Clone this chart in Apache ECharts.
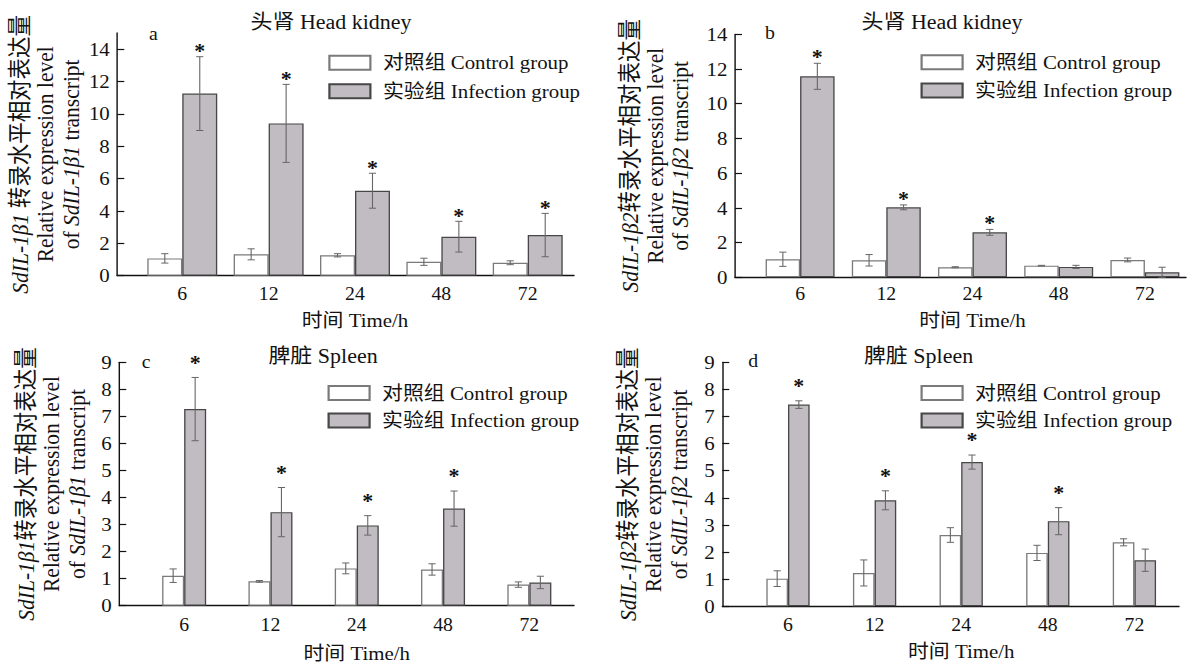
<!DOCTYPE html>
<html><head><meta charset="utf-8">
<script src="https://cdn.jsdelivr.net/npm/echarts@6/dist/echarts.min.js"></script>
<style>
html,body{margin:0;padding:0;background:#fff;overflow:hidden}
#wrap{width:1192px;height:666px;overflow:hidden;position:relative;background:#fff}
#chart{position:absolute;left:0;top:0;transform-origin:0 0}
</style></head>
<body><div id="wrap"><div id="chart"></div></div>
<script>
// ---------- data ----------
const categories = ['6', '12', '24', '48', '72'];
const controlName = '对照组 Control group';
const infectionName = '实验组 Infection group';

// a: head kidney, SdIL-1β1
const aControl = [1.07, 1.32, 1.26, 0.86, 0.80];
const aControlErr = [0.29, 0.34, 0.10, 0.22, 0.12];
const aInfection = [11.25, 9.41, 5.25, 2.41, 2.51];
const aInfectionErr = [2.28, 2.41, 1.08, 0.95, 1.34];
const aStars = [1, 1, 1, 1, 1];
const aTicks = [0, 2, 4, 6, 8, 10, 12, 14];

// b: head kidney, SdIL-1β2
const bControl = [1.04, 0.98, 0.58, 0.67, 1.00];
const bControlErr = [0.41, 0.33, 0.03, 0.02, 0.11];
const bInfection = [11.58, 4.03, 2.59, 0.60, 0.29];
const bInfectionErr = [0.75, 0.14, 0.17, 0.09, 0.29];
const bStars = [1, 1, 1, 0, 0];
const bTicks = [0, 2, 4, 6, 8, 10, 12, 14];

// c: spleen, SdIL-1β1
const cControl = [1.11, 0.90, 1.38, 1.34, 0.78];
const cControlErr = [0.25, 0.03, 0.20, 0.21, 0.10];
const cInfection = [7.27, 3.46, 2.97, 3.59, 0.86];
const cInfectionErr = [1.17, 0.91, 0.36, 0.65, 0.23];
const cStars = [1, 1, 1, 1, 0];
const cTicks = [0, 1, 2, 3, 4, 5, 6, 7, 8, 9];

// d: spleen, SdIL-1β2
const dControl = [1.02, 1.23, 2.63, 1.97, 2.36];
const dControlErr = [0.29, 0.48, 0.27, 0.28, 0.13];
const dInfection = [7.44, 3.91, 5.32, 3.14, 1.70];
const dInfectionErr = [0.14, 0.35, 0.26, 0.50, 0.41];
const dStars = [1, 1, 1, 1, 0];
const dTicks = [0, 1, 2, 3, 4, 5, 6, 7, 8, 9];

// ---------- layout (reference pixels) ----------
const CW = 1084, CH = 666;
const S = 1192 / CW;          // horizontal stretch of the reference figure
const X = v => v / S;
const FF = '"Liberation Serif", "Noto Sans CJK SC", serif';
const INK = '#121212';

const panels = [
  { letter: 'a', title: '头肾 Head kidney', gene: 'SdIL-1β1', sep: ' ',
    ctrl: aControl, ctrlErr: aControlErr, inf: aInfection, infErr: aInfectionErr, stars: aStars, ticks: aTicks, yMax: 15,
    axisL: 117.3, axisR: 574, bandL: 139.1, bandR: 570.9, top: 32.9, bottom: 275.7, gap: 0.19,
    legL: 328.3, legC1: 62.8, legC2: 91.3, titleX: 331, titleY: 22.5, letX: 149, letBase: 39.5,
    starOff: 8, yNameGap: 34, xNameGap: 35, catMargin: 9 },
  { letter: 'b', title: '头肾 Head kidney', gene: 'SdIL-1β2', sep: '',
    ctrl: bControl, ctrlErr: bControlErr, inf: bInfection, infErr: bInfectionErr, stars: bStars, ticks: bTicks, yMax: 14,
    axisL: 735, axisR: 1186, bandL: 757, bandR: 1188, top: 34.3, bottom: 277.3, gap: 0.20,
    legL: 920.5, legC1: 62.2, legC2: 90.5, titleX: 942, titleY: 22.5, letX: 765, letBase: 39.3,
    starOff: 8.7, yNameGap: 42, xNameGap: 34, catMargin: 8 },
  { letter: 'c', title: '脾脏 Spleen', gene: 'SdIL-1β1', sep: '',
    ctrl: cControl, ctrlErr: cControlErr, inf: cInfection, infErr: cInfectionErr, stars: cStars, ticks: cTicks, yMax: 9,
    axisL: 119.3, axisR: 574, bandL: 141, bandR: 572.5, top: 362.3, bottom: 605.7, gap: 0.49,
    legL: 327.5, legC1: 393, legC2: 420.5, titleX: 323, titleY: 356.3, letX: 141.7, letBase: 368.3,
    starOff: 17.4, yNameGap: 30, xNameGap: 38, catMargin: 10 },
  { letter: 'd', title: '脾脏 Spleen', gene: 'SdIL-1β2', sep: '',
    ctrl: dControl, ctrlErr: dControlErr, inf: dInfection, infErr: dInfectionErr, stars: dStars, ticks: dTicks, yMax: 9,
    axisL: 722.3, axisR: 1179, bandL: 744.7, bandR: 1177.7, top: 362.3, bottom: 606.3, gap: 0.50,
    legL: 920.5, legC1: 393, legC2: 420.5, titleX: 918.5, titleY: 356.3, letX: 748.3, letBase: 367.3,
    starOff: 17.7, yNameGap: 31, xNameGap: 36, catMargin: 10 }
];

const grid = [], xAxis = [], yAxis = [], series = [], legend = [], graphic = [];
const axisLineStyle = { color: INK, width: 1.3 };

function errRender(slot, gapFrac) {
  return function (params, api) {
    const idx = api.value(0), mean = api.value(1), err = api.value(2);
    const c = api.coord([idx, mean]);
    const band = api.size([1, 0])[0];
    const w = band * (1 - gapFrac) / 2;
    const x = c[0] + (slot === 0 ? -w / 2 : w / 2);
    const yt = api.coord([idx, mean + err])[1];
    const yb = api.coord([idx, Math.max(0, mean - err)])[1];
    const cap = X(3.6);
    const st = { stroke: '#666666', lineWidth: 1 };
    return { type: 'group', children: [
      { type: 'line', shape: { x1: x, y1: yt, x2: x, y2: yb }, style: st },
      { type: 'line', shape: { x1: x - cap, y1: yt, x2: x + cap, y2: yt }, style: st },
      { type: 'line', shape: { x1: x - cap, y1: yb, x2: x + cap, y2: yb }, style: st }
    ] };
  };
}
function starRender(gapFrac, off) {
  return function (params, api) {
    const idx = api.value(0), v = api.value(1);
    const c = api.coord([idx, v]);
    const band = api.size([1, 0])[0];
    const w = band * (1 - gapFrac) / 2;
    return { type: 'text', x: c[0] + w / 2, y: c[1] - off + 3,
      style: { text: '*', fill: INK, font: 'bold 20px "Liberation Serif"', align: 'center', verticalAlign: 'middle',
               textAlign: 'center', textVerticalAlign: 'middle' } };
  };
}

panels.forEach((p, i) => {
  const ga = 2 * i, gb = 2 * i + 1;
  const h = p.bottom - p.top;
  grid.push({ left: X(p.axisL), top: p.top, width: X(p.axisR - p.axisL), height: h, containLabel: false, outerBoundsMode: 'none' });
  grid.push({ left: X(p.bandL), top: p.top, width: X(p.bandR - p.bandL), height: h, containLabel: false, outerBoundsMode: 'none' });

  xAxis.push({ type: 'value', gridIndex: ga, min: 0, max: 1,
    axisLine: { show: true, onZero: false, lineStyle: axisLineStyle },
    axisTick: { show: false }, axisLabel: { show: false }, splitLine: { show: false } });
  xAxis.push({ type: 'category', gridIndex: gb, data: categories, boundaryGap: true,
    axisLine: { show: false }, axisTick: { show: false }, splitLine: { show: false },
    axisLabel: { fontSize: 18, fontFamily: FF, color: INK, margin: p.catMargin },
    name: '时间 Time/h', nameLocation: 'middle', nameGap: p.xNameGap,
    nameTextStyle: { fontSize: 19, fontFamily: FF, color: INK } });

  const yName = '{it|' + p.gene + '}' + p.sep + '转录水平相对表达量\nRelative expression level\nof {it|' + p.gene + '} transcript';
  yAxis.push({ type: 'value', gridIndex: ga, min: 0, max: p.yMax,
    axisLine: { show: true, onZero: false, lineStyle: axisLineStyle },
    axisTick: { show: true, inside: true, length: X(7), lineStyle: { color: INK, width: 1.2 }, customValues: p.ticks },
    axisLabel: { fontSize: 19, fontFamily: FF, color: INK, margin: X(7.5), customValues: p.ticks },
    splitLine: { show: false },
    name: yName, nameLocation: 'middle', nameRotate: 90, nameGap: X(p.yNameGap),
    nameTextStyle: { fontSize: 21.5, fontFamily: FF, color: INK, lineHeight: 23, align: 'center',
      rich: { it: { fontSize: 21.5, fontFamily: FF, fontStyle: 'italic', color: INK, lineHeight: 23 } } } });
  yAxis.push({ type: 'value', gridIndex: gb, min: 0, max: p.yMax, show: false, splitLine: { show: false } });

  const pct = Math.round(p.gap * 100) + '%';
  series.push({ type: 'bar', name: controlName, xAxisIndex: gb, yAxisIndex: gb, data: p.ctrl,
    barGap: '0%', barCategoryGap: pct, silent: true,
    itemStyle: { color: '#ffffff', borderColor: '#7a7a7a', borderWidth: 1.2 } });
  series.push({ type: 'bar', name: infectionName, xAxisIndex: gb, yAxisIndex: gb, data: p.inf,
    barGap: '0%', barCategoryGap: pct, silent: true,
    itemStyle: { color: '#c1bcc1', borderColor: '#474747', borderWidth: 1.2 } });

  series.push({ type: 'custom', name: 'errCtrl' + i, xAxisIndex: gb, yAxisIndex: gb, z: 5, silent: true,
    renderItem: errRender(0, p.gap), encode: { x: 0, y: 1 },
    data: p.ctrl.map((v, k) => [k, v, p.ctrlErr[k]]) });
  series.push({ type: 'custom', name: 'errInf' + i, xAxisIndex: gb, yAxisIndex: gb, z: 5, silent: true,
    renderItem: errRender(1, p.gap), encode: { x: 0, y: 1 },
    data: p.inf.map((v, k) => [k, v, p.infErr[k]]) });
  series.push({ type: 'custom', name: 'stars' + i, xAxisIndex: gb, yAxisIndex: gb, z: 6, silent: true, clip: false,
    renderItem: starRender(p.gap, p.starOff), encode: { x: 0, y: 1 },
    data: p.inf.map((v, k) => [k, v + p.infErr[k], p.stars[k]]).filter(d => d[2]) });

  legend.push({ orient: 'vertical', left: X(p.legL), top: p.legC1 - 9.5, padding: 0,
    itemWidth: X(41), itemHeight: 14, itemGap: (p.legC2 - p.legC1) - 19, icon: 'rect',
    selectedMode: false, data: [controlName, infectionName],
    textStyle: { fontSize: 19, fontFamily: FF, color: INK, padding: [0, 0, 0, X(7)] } });

  graphic.push({ type: 'text', x: X(p.titleX), y: p.titleY, silent: true,
    style: { text: p.title, fill: INK, font: '20px ' + FF, align: 'center', verticalAlign: 'middle',
             textAlign: 'center', textVerticalAlign: 'middle' } });
  graphic.push({ type: 'text', x: X(p.letX), y: p.letBase - 6, silent: true,
    style: { text: p.letter, fill: INK, font: '18px ' + FF, align: 'left', verticalAlign: 'middle',
             textAlign: 'left', textVerticalAlign: 'middle' } });
});

const el = document.getElementById('chart');
el.style.width = CW + 'px';
el.style.height = CH + 'px';
el.style.transform = 'scaleX(' + S + ')';
const chart = echarts.init(el, null, { renderer: 'svg', width: CW, height: CH });
chart.setOption({
  animation: false,
  backgroundColor: '#ffffff',
  textStyle: { fontFamily: FF },
  grid, xAxis, yAxis, series, legend, graphic,
  tooltip: { show: false }
});
</script>
</body></html>
